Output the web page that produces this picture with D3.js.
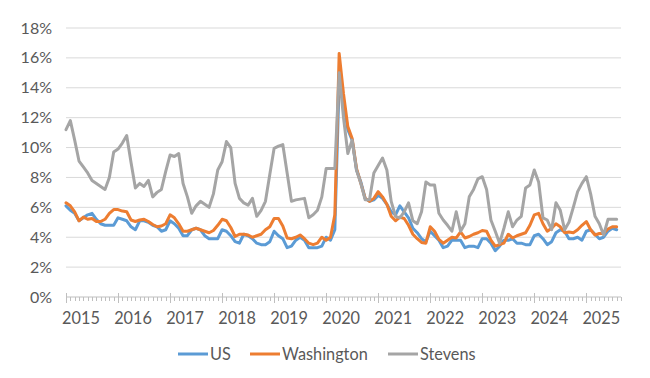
<!DOCTYPE html>
<html>
<head>
<meta charset="utf-8">
<script src="https://cdn.jsdelivr.net/npm/d3@7"></script>
<style>
  html, body { margin: 0; padding: 0; background: #fff; }
  svg { display: block; }
  text { font-family: Lato, "Open Sans", sans-serif; fill: #595959; }
</style>
</head>
<body>
<div id="chart"></div>
<script>
// ---- data (monthly, Jan 2015 – Aug 2025, unemployment rate %) ----
const startYear = 2015;
const yearLabels = ["2015","2016","2017","2018","2019","2020","2021","2022","2023","2024","2025"];
const yTicks = [0, 2, 4, 6, 8, 10, 12, 14, 16, 18];
const seriesNames = ["US", "Washington", "Stevens"];
const seriesColors = ["#5B9BD5", "#ED7D31", "#A5A5A5"];

const us = [
  6.1,5.8,5.6,5.1,5.3,5.5,5.6,5.2,4.9,4.8,4.8,4.8,
  5.3,5.2,5.1,4.7,4.5,5.1,5.1,5.0,4.8,4.7,4.4,4.5,
  5.1,4.9,4.6,4.1,4.1,4.5,4.6,4.5,4.1,3.9,3.9,3.9,
  4.5,4.4,4.1,3.7,3.6,4.2,4.1,3.9,3.6,3.5,3.5,3.7,
  4.4,4.1,3.9,3.3,3.4,3.8,4.0,3.8,3.3,3.3,3.3,3.4,
  4.0,3.8,4.5,14.4,13.0,11.2,10.5,8.5,7.7,6.6,6.4,6.5,
  6.8,6.6,6.2,5.7,5.5,6.1,5.7,5.3,4.6,4.3,3.9,3.7,
  4.4,4.1,3.8,3.3,3.4,3.8,3.8,3.8,3.3,3.4,3.4,3.3,
  3.9,3.9,3.6,3.1,3.4,3.8,3.8,3.9,3.6,3.6,3.5,3.5,
  4.1,4.2,3.9,3.5,3.7,4.3,4.5,4.4,3.9,3.9,4.0,3.8,
  4.4,4.5,4.2,3.9,4.0,4.4,4.6,4.5
];
const washington = [
  6.3,6.1,5.7,5.1,5.35,5.2,5.25,5.05,5.05,5.2,5.6,5.85,
  5.85,5.75,5.7,5.15,5.05,5.15,5.2,5.05,4.85,4.7,4.75,4.9,
  5.5,5.3,4.9,4.4,4.4,4.5,4.6,4.5,4.4,4.3,4.45,4.8,
  5.2,5.1,4.65,4.05,4.2,4.2,4.15,4.0,4.1,4.2,4.5,4.7,
  5.25,5.25,4.75,3.95,3.9,4.0,4.15,3.9,3.6,3.5,3.6,4.0,
  3.8,4.0,5.5,16.3,13.6,11.4,10.6,8.6,7.6,6.6,6.4,6.6,
  7.05,6.7,6.2,5.4,5.1,5.35,5.25,4.8,4.2,3.9,3.65,3.6,
  4.7,4.4,3.85,3.6,3.8,4.0,3.95,4.35,3.95,4.05,4.2,4.3,
  4.45,4.4,3.8,3.4,3.5,3.6,4.2,3.95,4.1,4.2,4.3,4.8,
  5.5,5.6,4.9,4.4,4.6,4.9,4.7,4.3,4.35,4.3,4.5,4.8,
  5.05,4.5,4.15,4.25,4.25,4.55,4.7,4.7
];
const stevens = [
  11.2,11.8,10.5,9.1,8.7,8.3,7.8,7.6,7.4,7.2,8.0,9.7,
  9.9,10.3,10.8,9.0,7.3,7.6,7.4,7.8,6.7,7.0,7.2,8.4,
  9.5,9.4,9.6,7.6,6.7,5.6,6.1,6.4,6.2,6.0,6.9,8.5,
  9.05,10.4,10.0,7.6,6.6,6.3,6.15,6.6,5.4,5.8,6.4,8.2,
  9.95,10.1,10.2,8.3,6.4,6.5,6.55,6.6,5.3,5.5,5.8,6.7,
  8.6,8.6,8.6,15.0,12.0,9.6,10.5,8.5,7.6,6.5,6.5,8.3,
  8.8,9.3,8.5,6.4,5.4,5.3,5.7,6.3,5.1,4.9,5.7,7.7,
  7.5,7.5,5.6,5.15,4.8,4.4,5.7,4.4,4.9,6.7,7.2,7.9,
  8.05,7.2,5.15,4.4,3.6,4.6,5.7,4.7,5.15,5.4,7.3,7.5,
  8.5,7.7,5.3,5.15,4.5,6.3,5.8,4.5,5.0,6.0,7.05,7.6,
  8.05,6.9,5.4,4.9,4.15,5.2,5.2,5.2
];
const seriesValues = [us, washington, stevens];

// ---- layout ----
const W = 650, H = 378;
const plot = { left: 66, right: 621, top: 28, bottom: 297 };

const svg = d3.select("#chart").append("svg")
  .attr("width", W).attr("height", H);

const nMonths = us.length;
const x = d3.scaleLinear().domain([0, nMonths]).range([plot.left, plot.right]);
const y = d3.scaleLinear().domain([0, 18]).range([plot.bottom, plot.top]);

// gridlines
svg.append("g").selectAll("line")
  .data(yTicks.filter(d => d > 0))
  .join("line")
  .attr("x1", plot.left).attr("x2", plot.right)
  .attr("y1", d => y(d)).attr("y2", d => y(d))
  .attr("stroke", "#D9D9D9").attr("stroke-width", 1);

// y labels
svg.append("g").selectAll("text")
  .data(yTicks)
  .join("text")
  .attr("x", 52).attr("y", d => y(d))
  .attr("dy", "0.35em")
  .attr("text-anchor", "end")
  .style("font-size", "16px")
  .text(d => d + "%");

// x axis line and ticks
const axisG = svg.append("g");
axisG.append("line")
  .attr("x1", plot.left).attr("x2", plot.right)
  .attr("y1", y(0)).attr("y2", y(0))
  .attr("stroke", "#BFBFBF").attr("stroke-width", 1);
const monthIdx = d3.range(0, nMonths + 1);
axisG.selectAll("line.tick")
  .data(monthIdx)
  .join("line")
  .attr("class", "tick")
  .attr("x1", d => Math.round(x(d)) + 0.5).attr("x2", d => Math.round(x(d)) + 0.5)
  .attr("y1", d => d % 12 === 0 ? y(0) - 4 : y(0))
  .attr("y2", d => d % 12 === 0 ? y(0) + 6 : y(0) + 4)
  .attr("stroke", "#BFBFBF").attr("stroke-width", 1);

// year labels
svg.append("g").selectAll("text")
  .data(yearLabels)
  .join("text")
  .attr("x", (d, i) => x(i * 12) + 15)
  .attr("y", 324)
  .attr("text-anchor", "middle")
  .style("font-size", "16.3px")
  .text(d => d);

// lines
const line = d3.line()
  .x((d, i) => x(i))
  .y(d => y(d));

svg.append("g").selectAll("path")
  .data(seriesValues)
  .join("path")
  .attr("d", d => line(d))
  .attr("fill", "none")
  .attr("stroke", (d, i) => seriesColors[i])
  .attr("stroke-width", 3)
  .attr("stroke-linejoin", "round")
  .attr("stroke-linecap", "round");

// legend
const legend = svg.append("g");
const legendItems = [
  { name: seriesNames[0], color: seriesColors[0], x: 178 },
  { name: seriesNames[1], color: seriesColors[1], x: 250 },
  { name: seriesNames[2], color: seriesColors[2], x: 388 }
];
const ly = 354;
legendItems.forEach(it => {
  legend.append("line")
    .attr("x1", it.x).attr("x2", it.x + 30)
    .attr("y1", ly).attr("y2", ly)
    .attr("stroke", it.color).attr("stroke-width", 3);
  legend.append("text")
    .attr("x", it.x + 32).attr("y", ly)
    .attr("dy", "0.35em")
    .style("font-size", "16.3px")
    .text(it.name);
});
</script>
</body>
</html>
